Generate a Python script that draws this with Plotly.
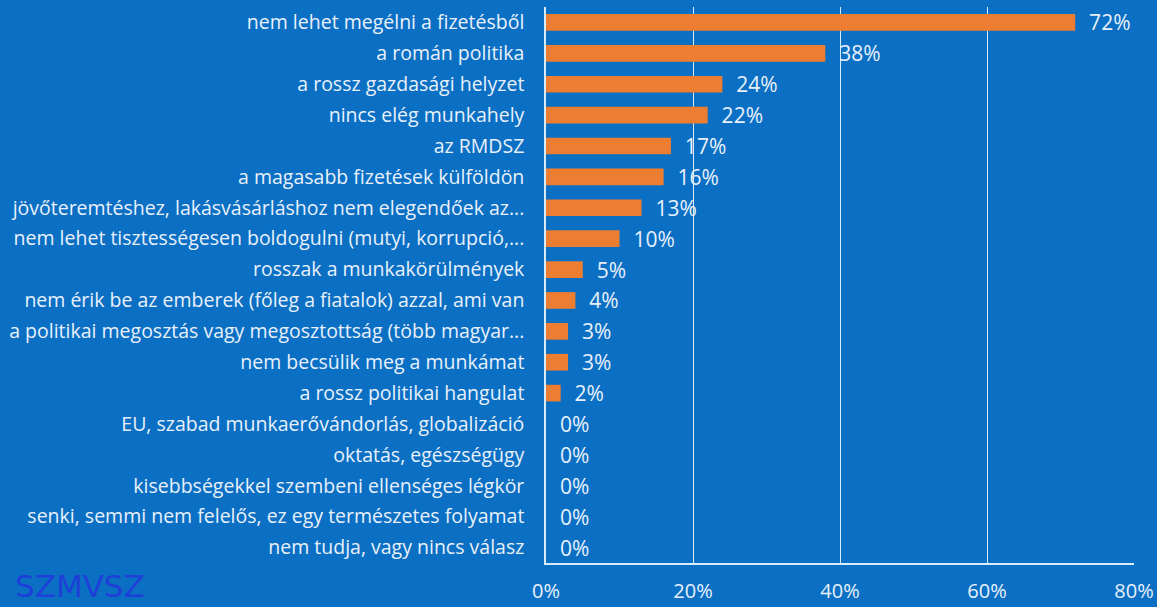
import plotly.graph_objects as go

categories = [
    "nem lehet megélni a fizetésből",
    "a román politika",
    "a rossz gazdasági helyzet",
    "nincs elég munkahely",
    "az RMDSZ",
    "a magasabb fizetések külföldön",
    "jövőteremtéshez, lakásvásárláshoz nem elegendőek az...",
    "nem lehet tisztességesen boldogulni (mutyi, korrupció,...",
    "rosszak a munkakörülmények",
    "nem érik be az emberek (főleg a fiatalok) azzal, ami van",
    "a politikai megosztás vagy megosztottság (több magyar...",
    "nem becsülik meg a munkámat",
    "a rossz politikai hangulat",
    "EU, szabad munkaerővándorlás, globalizáció",
    "oktatás, egészségügy",
    "kisebbségekkel szembeni ellenséges légkör",
    "senki, semmi nem felelős, ez egy természetes folyamat",
    "nem tudja, vagy nincs válasz",
]
values = [72, 38, 24, 22, 17, 16, 13, 10, 5, 4, 3, 3, 2, 0, 0, 0, 0, 0]
x_ticks = [0, 20, 40, 60, 80]
x_tick_labels = ["0%", "20%", "40%", "60%", "80%"]

BG = "#0b6fc3"
TXT = "#e8f1fb"
ORANGE = "#ed7d31"
FONT = "Open Sans"

fig = go.Figure()
fig.add_trace(go.Bar(
    y=categories,
    x=values,
    orientation="h",
    marker=dict(color=ORANGE, line=dict(width=0)),
    text=[f"{v}%" for v in values],
    texttemplate="  %{text}",
    textposition="outside",
    constraintext="none",
    textfont=dict(color=TXT, size=21, family=FONT),
    cliponaxis=False,
))

fig.update_layout(
    width=1157, height=607,
    paper_bgcolor=BG, plot_bgcolor=BG,
    margin=dict(l=546, r=23, t=7, b=44),
    bargap=0.46,
    showlegend=False,
    font=dict(family=FONT, color=TXT),
    xaxis=dict(
        range=[0, 80], tickvals=x_ticks, ticktext=x_tick_labels,
        showgrid=True, gridcolor="#d9eaf9", gridwidth=1.2,
        zeroline=False, showline=True, linecolor="#d9eaf9", linewidth=1.5,
        tickfont=dict(size=20, color=TXT, family=FONT),
        ticks="outside", ticklen=9, tickcolor="rgba(0,0,0,0)",
        automargin=False,
    ),
    yaxis=dict(
        autorange="reversed",
        showline=True, linecolor="#d9eaf9", linewidth=1.5,
        showgrid=False,
        tickfont=dict(size=19.5, color=TXT, family=FONT),
        ticks="outside", ticklen=16, tickcolor="rgba(0,0,0,0)",
        automargin=False,
    ),
)

fig.add_annotation(
    text="SZMVSZ", xref="paper", yref="paper",
    x=(13 - 546) / 588, y=(563 - 586) / 556,
    xanchor="left", yanchor="middle", showarrow=False,
    font=dict(size=31, color="#1e3fd8", family="DejaVu Sans"),
)

fig.write_html(
    "out.html",
    config={"displayModeBar": False},
    post_script="document.body.style.margin='0px';",
)
